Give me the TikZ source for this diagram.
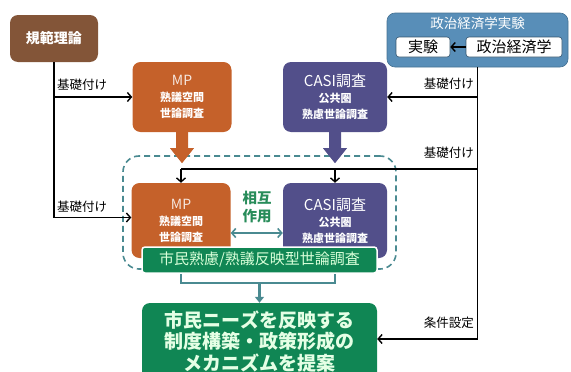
\documentclass[tikz,border=0pt]{standalone}
\usepackage{fontspec}
\setmainfont{Noto Sans CJK JP}
\usetikzlibrary{arrows.meta}
\definecolor{cbrown}{RGB}{131,85,56}
\definecolor{corange}{RGB}{197,97,42}
\definecolor{cpurple}{RGB}{82,79,138}
\definecolor{cblue}{RGB}{88,142,184}
\definecolor{cgreen}{RGB}{16,134,84}
\definecolor{cteal}{RGB}{74,138,145}
\definecolor{cgtext}{RGB}{40,140,90}
\tikzset{
  rbox/.style={rounded corners=8pt, inner sep=0pt, align=center, text=white},
  blk/.style={line width=1.6pt, black},
  arr/.style={blk, -{Straight Barb[length=4pt,width=9pt,line width=1.4pt]}},
  tl/.style={line width=2.2pt, cteal},
  lbl/.style={font=\fontsize{12.5}{14}\selectfont, inner sep=1pt},
  boxtxt/.style={font=\fontsize{11}{16}\selectfont\bfseries},
  wbox/.style={rounded corners=3pt, fill=white, draw=cblue!60!black, line width=0.6pt, minimum height=20, inner sep=0pt, font=\fontsize{15}{17}\selectfont},
}
\begin{document}
\begin{tikzpicture}[x=1pt,y=-1pt]
\useasboundingbox (0,0) rectangle (571,372);
\clip (0,0) rectangle (571,372);

% top boxes
\node[rbox, fill=cbrown, minimum width=88, minimum height=47, font=\fontsize{14}{16}\selectfont\bfseries] (kihan) at (54,38.5) {規範理論};
\node[rbox, fill=corange, minimum width=99, minimum height=70, boxtxt] (mp1) at (182,97)
  {{\fontsize{14}{16}\selectfont\mdseries\color{white!85!corange}MP}\\熟議空間\\世論調査};
\node[rbox, fill=cpurple, minimum width=104, minimum height=70, boxtxt] (casi1) at (335,97)
  {{\fontsize{15}{17}\selectfont\mdseries CASI調査}\\公共圏\\熟慮世論調査};

\node[rbox, fill=cblue, draw=cblue!80!black, line width=0.6pt, minimum width=181, minimum height=54] (blue) at (477.5,40) {};
\node[inner sep=0pt, text=white, font=\fontsize{13.5}{15}\selectfont] (bluet) at (477.5,23) {政治経済学実験};
\node[wbox, minimum width=54] (jikken) at (423,47) {実験};
\node[wbox, minimum width=96] (seiji) at (514,47) {政治経済学};
\draw[arr, line width=1.8pt] (seiji.west) -- (jikken.east);

% dashed group
\node[draw=cteal, line width=1.6pt, dash pattern=on 6pt off 4pt, rounded corners=16pt, minimum width=273, minimum height=113, inner sep=0pt] (grp) at (259.5,212.5) {};

% block arrows
\fill[corange] ([xshift=-6pt]mp1.south) -- ++(0,16) -- ++(-6,0) -- ++(12,15) -- ++(12,-15) -- ++(-6,0) -- ++(0,-16) -- cycle;
\fill[cpurple] ([xshift=-6pt]casi1.south) -- ++(0,16) -- ++(-6,0) -- ++(12,15) -- ++(12,-15) -- ++(-6,0) -- ++(0,-16) -- cycle;

% lower boxes
\node[rbox, fill=corange, minimum width=99, minimum height=75, boxtxt] (mp2) at (181,220.5)
  {{\fontsize{14}{16}\selectfont\mdseries\color{white!85!corange}MP}\\熟議空間\\世論調査};
\node[rbox, fill=cpurple, minimum width=104, minimum height=75, boxtxt] (casi2) at (335,220.5)
  {{\fontsize{15}{17}\selectfont\mdseries CASI調査}\\公共圏\\熟慮世論調査};

\node[align=center, text=cgtext, font=\fontsize{14.5}{18}\selectfont\bfseries, inner sep=0pt] (sogo) at (257,207) {相互\\作用};
\draw[tl, {Straight Barb[length=4pt,width=9pt,line width=1.6pt]}-{Straight Barb[length=4pt,width=9pt,line width=1.6pt]}] ([yshift=-12.5pt]mp2.east) -- ([yshift=-12.5pt]casi2.west);

% bracket below
\coordinate (brk) at (259.5,283);
\draw[tl] (mp2.south) |- (brk) -| (casi2.south);

% green bar
\node[rounded corners=3pt, fill=cgreen, draw=white, line width=1.5pt, minimum width=235, minimum height=26, inner sep=0pt, text=white!85!green, font=\fontsize{15}{17}\selectfont] (bar) at (259.5,260) {市民熟慮/熟議反映型世論調査};

% bottom box
\node[rbox, fill=cgreen, minimum width=235, minimum height=77, font=\fontsize{19}{21.5}\selectfont\bfseries, text=white!90!green] (bottom) at (259.5,341.5)
  {市民ニーズを反映する\\制度構築・政策形成の\\メカニズムを提案};
\draw[tl, line width=2.2pt, -{Triangle[length=6pt,width=9pt]}] (brk) -- (bottom.north);

% left connectors
\draw[arr] (kihan.south) |- (mp1.west);
\draw[arr] (kihan.south) |- ([yshift=3pt]mp2.west);
\node[lbl, anchor=south west] (l1) at (56,92) {基礎付け};
\node[lbl, anchor=south west] (l2) at (56,214) {基礎付け};

% right connectors
\coordinate (rj) at (blue.south |- 0,169);
\coordinate (hl) at (mp2.north |- rj);
\draw[arr] (blue.south) |- (casi1.east);
\draw[blk] (rj) -- (hl);
\draw[arr] (hl) -- (mp2.north);
\draw[arr] (casi2.north |- rj) -- (casi2.north);
\draw[arr] (blue.south) |- ([yshift=2.5pt]bottom.east);
\node[lbl, anchor=south east] (r1) at (475,91) {基礎付け};
\node[lbl, anchor=south east] (r2) at (475,160) {基礎付け};
\node[lbl, anchor=south east] (r3) at (475,330) {条件設定};
\end{tikzpicture}
\end{document}
